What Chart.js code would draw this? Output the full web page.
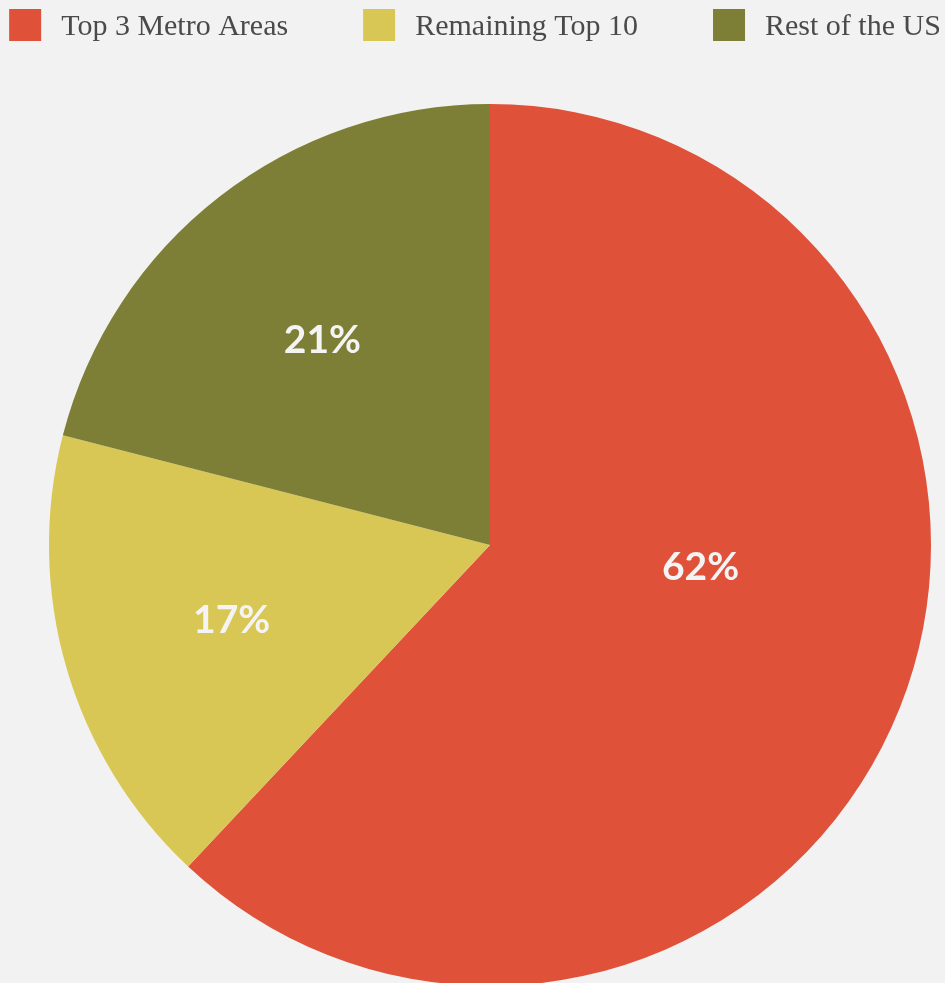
<!DOCTYPE html>
<html>
<head>
<meta charset="utf-8">
<script src="https://cdn.jsdelivr.net/npm/chart.js@4"></script>
<style>
    html, body { margin: 0; padding: 0; background: #f2f2f2; overflow: hidden; }
    #wrap { position: relative; width: 945px; height: 986px; }
</style>
</head>
<body>
<div id="wrap"><canvas id="pieChart"></canvas></div>
<script>
// 데이터
const categories = ['Top 3 Metro Areas', 'Remaining Top 10', 'Rest of the US'];
const shares = [62, 17, 21];
const sliceColors = ['#e0513a', '#d9c755', '#7e7f36'];

// 라벨 위치 (조각 안에서의 각도 비율, 반지름 비율)
const labelAngleFrac = [0.43, 0.5, 0.48];
const labelRadiusFrac = [0.48, 0.61, 0.6];

// 조각 위 퍼센트 라벨
const percentLabels = {
    id: 'percentLabels',
    afterDatasetsDraw(chart) {
        const ctx = chart.ctx;
        const meta = chart.getDatasetMeta(0);
        ctx.save();
        ctx.font = 'bold 39px Lato';
        ctx.fillStyle = '#f4f4f4';
        ctx.textAlign = 'center';
        ctx.textBaseline = 'middle';
        meta.data.forEach(function (arc, i) {
            const p = arc.getProps(['x', 'y', 'startAngle', 'endAngle', 'outerRadius'], true);
            const a = p.startAngle + (p.endAngle - p.startAngle) * labelAngleFrac[i];
            const r = p.outerRadius * labelRadiusFrac[i];
            ctx.fillText(shares[i] + '%', p.x + Math.cos(a) * r, p.y + Math.sin(a) * r);
        });
        ctx.restore();
    }
};

// 상단 범례 (직접 그리기)
const topLegend = {
    id: 'topLegend',
    afterDraw(chart) {
        const ctx = chart.ctx;
        const box = 32, boxGap = 20, itemGap = 75;
        ctx.save();
        ctx.font = '30px "Liberation Serif"';
        ctx.textBaseline = 'middle';
        let total = 0;
        const widths = categories.map(function (c) { return ctx.measureText(c).width; });
        widths.forEach(function (w) { total += box + boxGap + w; });
        total += itemGap * (categories.length - 1);
        let x = 475 - total / 2;
        categories.forEach(function (c, i) {
            ctx.fillStyle = sliceColors[i];
            ctx.fillRect(x, 9, box, box);
            ctx.fillStyle = '#4a4a4a';
            ctx.fillText(c, x + box + boxGap, 27);
            x += box + boxGap + widths[i] + itemGap;
        });
        ctx.restore();
    }
};

new Chart(document.getElementById('pieChart'), {
    type: 'pie',
    data: {
        labels: categories,
        datasets: [{
            data: shares,
            backgroundColor: sliceColors,
            borderWidth: 0
        }]
    },
    options: {
        responsive: true,
        maintainAspectRatio: false,
        animation: false,
        layout: {
            padding: { top: 104, left: 35, right: 0, bottom: 0 }
        },
        plugins: {
            legend: { display: false },
            tooltip: { enabled: false }
        }
    },
    plugins: [percentLabels, topLegend]
});
</script>
</body>
</html>
